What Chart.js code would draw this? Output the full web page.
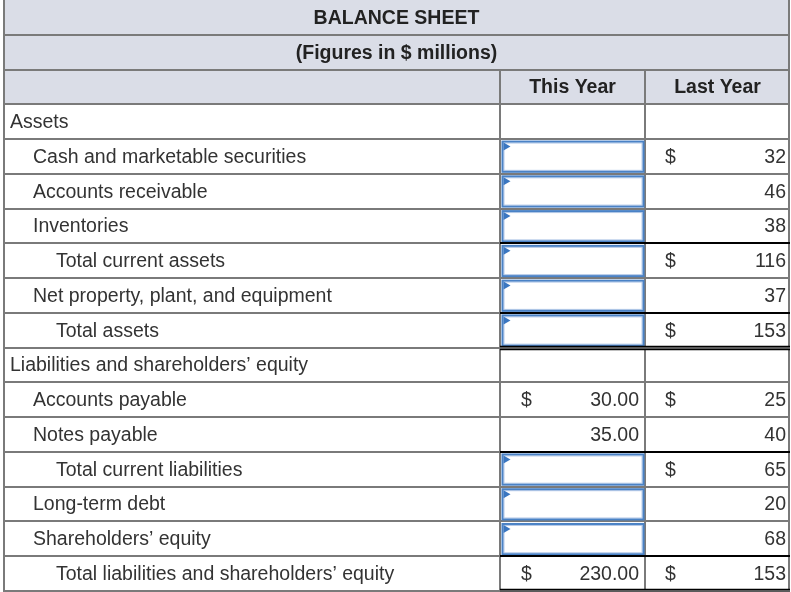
<!DOCTYPE html>
<html>
<head>
<meta charset="utf-8">
<script src="https://cdn.jsdelivr.net/npm/chart.js@4.4.1/dist/chart.umd.min.js"></script>
<style>
  html, body { margin: 0; padding: 0; background: #ffffff; }
  #wrap { position: relative; width: 791px; height: 592px; }
</style>
</head>
<body>
<div id="wrap"><canvas id="sheet"></canvas></div>
<script>
// table text
const titleLines = ['BALANCE SHEET', '(Figures in $ millions)'];
const columnHeads = ['', 'This Year', 'Last Year'];

// body rows
const rowLabels = [
  'Assets',
  'Cash and marketable securities',
  'Accounts receivable',
  'Inventories',
  'Total current assets',
  'Net property, plant, and equipment',
  'Total assets',
  'Liabilities and shareholders\u2019 equity',
  'Accounts payable',
  'Notes payable',
  'Total current liabilities',
  'Long-term debt',
  'Shareholders\u2019 equity',
  'Total liabilities and shareholders\u2019 equity'
];
const indentLevel = [0, 1, 1, 1, 2, 1, 2, 0, 1, 1, 2, 1, 1, 2];

const thisYear = [null, null, null, null, null, null, null, null, 30, 35, null, null, null, 230];
const thisYearInput = [false, true, true, true, true, true, true, false, false, false, true, true, true, false];
const thisYearDollar = [false, false, false, false, false, false, false, false, true, false, false, false, false, true];

const lastYear = [null, 32, 46, 38, 116, 37, 153, null, 25, 40, 65, 20, 68, 153];
const lastYearDollar = [false, true, false, false, true, false, true, false, true, false, true, false, false, true];

// rule under the value cells: 0 none, 1 single, 2 double
const ruleBelow = [0, 0, 0, 1, 0, 1, 2, 0, 0, 1, 0, 0, 1, 2];

// layout (column edges in table units 0..1)
const colEdges = [0, 0.6315, 0.8158, 1];
const headRows = titleLines.length + 1;
const totalRows = headRows + rowLabels.length;

const FONT = '"Liberation Sans", Arial, sans-serif';
const GRID = '#7a7a7a';
const HEAD_FILL = '#dadde7';
const TEXT = '#333333';

const tablePlugin = {
  id: 'tablePlugin',
  afterDraw(chart) {
    const ctx = chart.ctx;
    const xs = chart.scales.x;
    const ys = chart.scales.y;
    const X = v => xs.getPixelForValue(v);
    const Y = v => ys.getPixelForValue(v);
    const left = X(0), right = X(1);

    ctx.save();

    // header fills
    ctx.fillStyle = HEAD_FILL;
    ctx.fillRect(left, Y(0), right - left, Y(headRows) - Y(0));

    // title lines
    ctx.fillStyle = '#222222';
    ctx.textBaseline = 'middle';
    ctx.textAlign = 'center';
    ctx.font = 'bold 19.5px ' + FONT;
    titleLines.forEach((t, i) => {
      ctx.fillText(t, (left + right) / 2, Y(i + 0.5) + 1);
    });
    columnHeads.forEach((t, c) => {
      if (!t) return;
      ctx.fillText(t, (X(colEdges[c]) + X(colEdges[c + 1])) / 2, Y(headRows - 0.5) + 1);
    });

    // grid: horizontal lines
    ctx.strokeStyle = GRID;
    ctx.lineWidth = 2;
    for (let r = 1; r <= totalRows; r++) {
      const y = Math.round(Y(r));
      ctx.beginPath();
      ctx.moveTo(left, y);
      ctx.lineTo(right, y);
      ctx.stroke();
    }
    // left / right borders
    ctx.beginPath();
    ctx.moveTo(left + 1, Y(0));
    ctx.lineTo(left + 1, Y(totalRows));
    ctx.moveTo(right - 1, Y(0));
    ctx.lineTo(right - 1, Y(totalRows));
    ctx.stroke();
    // column dividers from the column head row down
    [1, 2].forEach(c => {
      const x = Math.round(X(colEdges[c]));
      ctx.beginPath();
      ctx.moveTo(x, Y(headRows - 1));
      ctx.lineTo(x, Y(totalRows));
      ctx.stroke();
    });

    // body text
    ctx.font = '19.5px ' + FONT;
    ctx.fillStyle = TEXT;
    rowLabels.forEach((label, i) => {
      const r = headRows + i;
      const yMid = Y(r + 0.5) + 1;
      ctx.textAlign = 'left';
      ctx.fillText(label, left + 7 + indentLevel[i] * 23, yMid);

      const c1l = X(colEdges[1]), c1r = X(colEdges[2]);
      const c2l = X(colEdges[2]), c2r = X(colEdges[3]);

      if (thisYearDollar[i]) ctx.fillText('$', c1l + 21, yMid);
      if (thisYear[i] != null) {
        ctx.textAlign = 'right';
        ctx.fillText(thisYear[i].toFixed(2), c1r - 6, yMid);
      }
      ctx.textAlign = 'left';
      if (lastYearDollar[i]) ctx.fillText('$', c2l + 20, yMid);
      if (lastYear[i] != null) {
        ctx.textAlign = 'right';
        ctx.fillText(String(lastYear[i]), c2r - 4, yMid);
      }

      // input boxes
      if (thisYearInput[i]) {
        const bx = c1l + 2.5, by = Y(r) + 2.5;
        const bw = c1r - c1l - 4, bh = Y(r + 1) - Y(r) - 4.5;
        ctx.strokeStyle = '#b4c9e8';
        ctx.lineWidth = 1;
        ctx.strokeRect(bx + 1.5, by + 1.5, bw - 3, bh - 3);
        ctx.strokeStyle = '#4a82c6';
        ctx.lineWidth = 2;
        ctx.strokeRect(bx, by, bw, bh);
        ctx.fillStyle = '#3a76c0';
        ctx.beginPath();
        ctx.moveTo(bx + 1, by + 1);
        ctx.lineTo(bx + 8, by + 5);
        ctx.lineTo(bx + 1, by + 9);
        ctx.closePath();
        ctx.fill();
        ctx.fillStyle = TEXT;
      }

      // black rules under value cells
      if (ruleBelow[i]) {
        const yb = Math.round(Y(r + 1));
        ctx.strokeStyle = '#000000';
        ctx.beginPath();
        if (ruleBelow[i] === 1) {
          ctx.lineWidth = 2;
          ctx.moveTo(c1l, yb);
          ctx.lineTo(c2r, yb);
        } else {
          ctx.lineWidth = 1.5;
          ctx.moveTo(c1l, yb - 1.5);
          ctx.lineTo(c2r, yb - 1.5);
          ctx.moveTo(c1l, yb + 1.5);
          ctx.lineTo(c2r, yb + 1.5);
        }
        ctx.stroke();
      }
    });

    ctx.restore();
  }
};

new Chart(document.getElementById('sheet'), {
  type: 'scatter',
  data: {
    datasets: [{
      label: 'Last Year',
      data: [],
      pointRadius: 0
    }]
  },
  options: {
    responsive: true,
    maintainAspectRatio: false,
    animation: false,
    layout: { padding: { left: 3, right: 1, top: 0, bottom: 1 } },
    plugins: {
      legend: { display: false },
      tooltip: { enabled: false }
    },
    scales: {
      x: { type: 'linear', min: 0, max: 1, display: false },
      y: { type: 'linear', min: 0, max: totalRows, reverse: true, display: false }
    }
  },
  plugins: [tablePlugin]
});
</script>
</body>
</html>
